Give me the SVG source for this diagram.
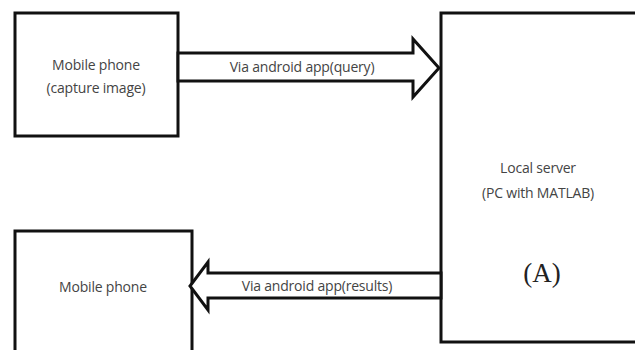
<svg xmlns="http://www.w3.org/2000/svg" width="635" height="350" viewBox="0 0 635 350">
<style>
.box{fill:#fff;stroke:#111;stroke-width:3}
.arr{fill:#fff;stroke:#111;stroke-width:3;stroke-linejoin:miter}
.t{font-family:"Open Sans","Liberation Sans",sans-serif;font-size:14px;fill:#444;text-anchor:middle;letter-spacing:-0.2px}
.s{font-family:"Liberation Serif",serif;font-size:27px;fill:#222;text-anchor:middle}
</style>
<rect width="635" height="350" fill="#fff"/>
<g id="phone1">
<rect class="box" x="15" y="13" width="163" height="123"/>
<text class="t" x="96" y="70">Mobile phone</text>
<text class="t" x="96" y="93">(capture image)</text>
</g>
<g id="server">
<rect class="box" x="441" y="13" width="200" height="329"/>
<text class="t" x="538" y="173">Local server</text>
<text class="t" x="538" y="198">(PC with MATLAB)</text>
<text class="s" x="542" y="282">(A)</text>
</g>
<g id="phone2">
<rect class="box" x="15" y="231" width="177" height="125"/>
<text class="t" x="103" y="292">Mobile phone</text>
</g>
<g id="connectors">
<path class="arr" d="M178,53 L413,53 L413,39 L439,68 L413,97 L413,81 L178,81 Z"/>
<text class="t" x="302" y="72">Via android app(query)</text>
<path class="arr" d="M441,273 L208,273 L208,262 L190,286 L208,310 L208,298 L441,298 Z"/>
<text class="t" x="317" y="291">Via android app(results)</text>
</g>
</svg>
